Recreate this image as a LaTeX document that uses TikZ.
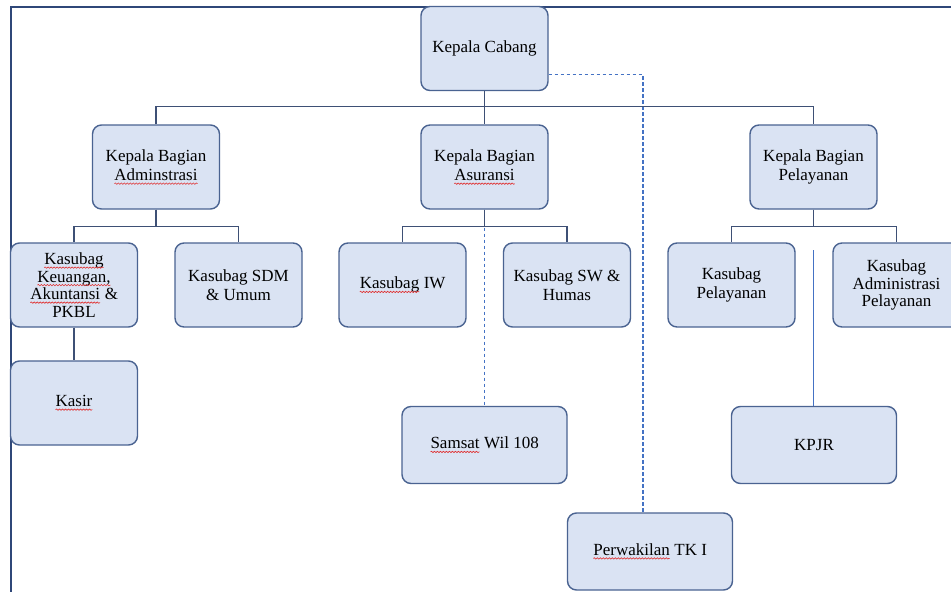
\documentclass[tikz,border=0pt]{standalone}
\usepackage{fontspec}
\setmainfont{Liberation Serif}
\definecolor{boxfill}{HTML}{DAE3F3}
\definecolor{boxline}{HTML}{4A6391}
\definecolor{linkline}{HTML}{3E5075}
\definecolor{dashblue}{HTML}{4472C4}
\definecolor{framenavy}{HTML}{2F4778}
\definecolor{spellred}{HTML}{E03030}
\usepackage{tikz}
\usetikzlibrary{
  positioning,
  calc,
  decorations.pathmorphing
}
\tikzset{
  orgbox/.style={draw=boxline, fill=boxfill, line width=1.4pt,
    rounded corners=9pt, minimum width=127pt, minimum height=84pt,
    align=center, text=black, inner sep=2pt,
    font=\fontsize{17}{19.5}\selectfont},
  widebox/.style={orgbox, minimum width=165pt, minimum height=77pt},
  conn/.style={draw=linkline, line width=1.2pt},
  dashconn/.style={draw=dashblue, line width=1.1pt, dash pattern=on 3.5pt off 2.5pt},
  thinconn/.style={draw=dashblue, line width=1pt},
  frameline/.style={draw=framenavy, line width=1.4pt},
  wordnode/.style={draw=none, fill=none, inner sep=0pt, outer sep=0pt,
    minimum width=0pt, minimum height=0pt, rounded corners=0pt},
  squiggle/.style={draw=spellred, line width=0.6pt, rounded corners=0pt,
    decorate, decoration={snake, amplitude=0.7pt, segment length=3pt}},
}
% word with a spell-check underline
\newcommand{\spell}[1]{\tikz[baseline=(w.base)]{\node[wordnode] (w) {#1};
  \draw[squiggle] ([yshift=-3pt]w.base west) -- ([yshift=-3pt]w.base east);}}

\begin{document}
\begin{tikzpicture}[x=1pt, y=-1pt]
  \useasboundingbox (0,0) rectangle (951,592);
  \clip (0,0) rectangle (951,592);

  % Frame
  \draw[frameline] (11,7) rectangle (990,640);

  % Top
  \node[orgbox] (cabang) at (484.5,48.5) {Kepala Cabang};

  % Bagian
  \node[orgbox] (adm) at (156,167) {Kepala Bagian\\\spell{Adminstrasi}};
  \node[orgbox] (asu) at (484.5,167) {Kepala Bagian\\\spell{Asuransi}};
  \node[orgbox] (pel) at (813.5,167) {Kepala Bagian\\Pelayanan};

  % Kasubag
  \node[orgbox, font=\fontsize{17}{17.5}\selectfont] (keu) at (74,285)
    {\spell{Kasubag}\\\spell{Keuangan,}\\\spell{Akuntansi} \&\\PKBL};
  \node[orgbox] (sdm) at (238.5,285) {Kasubag SDM\\\& Umum};
  \node[orgbox] (iw) at (402.5,285) {\spell{Kasubag} IW};
  \node[orgbox] (sw) at (567,285) {Kasubag SW \&\\Humas};
  \node[orgbox] (kpel) at (731.5,285) {Kasubag\\Pelayanan};
  \node[orgbox, font=\fontsize{17}{17.5}\selectfont] (kadm) at (896.5,285)
    {Kasubag\\Administrasi\\Pelayanan};

  % Bottom row
  \node[orgbox] (kasir) at (74,403) {\spell{Kasir}};
  \node[widebox] (samsat) at (484.5,445) {\spell{Samsat} Wil 108};
  \node[widebox] (kpjr) at (814,445) {KPJR};
  \node[widebox] (perw) at (650,551.5) {\spell{Perwakilan} TK I};

  % Dashed links
  \draw[dashconn] (asu.south) -- (samsat.north);
  \draw[dashconn] ([yshift=-26pt]cabang.east) -| ([xshift=-7pt]perw.north);

  % Solid links
  \draw[conn] (cabang.south) -- (asu.north);
  \draw[conn] (adm.north) -- ++(0,-18) -| (pel.north);
  \draw[conn] (adm.south) -- ++(0,17) -| (keu.north);
  \draw[conn] (adm.south) -- ++(0,17) -| (sdm.north);
  \draw[conn] (asu.south) -- ++(0,17) -| (iw.north);
  \draw[conn] (asu.south) -- ++(0,17) -| (sw.north);
  \draw[conn] (pel.south) -- ++(0,17) -| (kpel.north);
  \draw[conn] (pel.south) -- ++(0,17) -| (kadm.north);
  \draw[conn] (keu.south) -- (kasir.north);

  \coordinate (kpjrtop) at (813.5,250);
  \draw[thinconn] (kpjrtop) -- (kpjrtop |- kpjr.north);
\end{tikzpicture}
\end{document}
